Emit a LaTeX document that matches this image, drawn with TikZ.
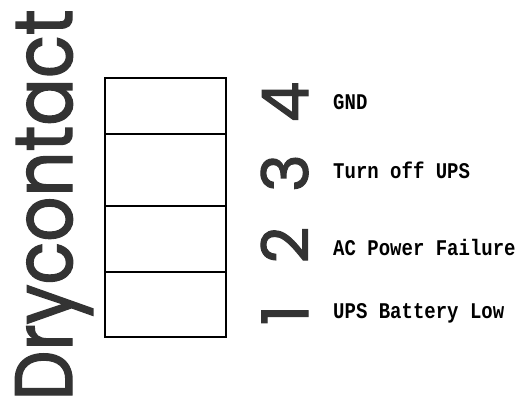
\documentclass[tikz,border=0pt]{standalone}
\usepackage{fontspec}
\setmainfont{Liberation Mono}
\newfontfamily\drysans[FakeBold=1.8]{Poppins}
\usetikzlibrary{positioning}

\newcommand{\tallsig}[1]{\scalebox{1}[1.18]{#1}}

\tikzset{
  cell/.style={draw, line width=1.3pt, minimum width=121pt, inner sep=0pt},
  pinnum/.style={rotate=90, anchor=base, font=\drysans\fontsize{64}{64}\selectfont, text=black!80, inner sep=0pt},
  pinlabel/.style={anchor=west, font=\bfseries\fontsize{19}{19}\selectfont, inner sep=0pt}
}

\begin{document}
\begin{tikzpicture}[x=1pt, y=1pt]
\useasboundingbox (0,0) rectangle (518,409);

% Title
\node[rotate=90, anchor=base, font=\drysans\fontsize{72}{72}\selectfont, text=black!80, inner sep=0pt] (title) at (72,204) {\scalebox{0.98}[1.13]{Drycontact}};

% Contact block
\node[cell, minimum height=56pt] (cell4) at (165.5,303) {};
\node[cell, minimum height=72pt] (cell3) at (165.5,239) {};
\node[cell, minimum height=66pt] (cell2) at (165.5,170) {};
\node[cell, minimum height=65pt] (cell1) at (165.5,104.5) {};

% Pin numbers
\node[pinnum] (num4) at (308,307) {4};
\node[pinnum] (num3) at (308,236) {3};
\node[pinnum] (num2) at (308,164) {2};
\node[pinnum] (num1) at (308,94) {1};

% Signals
\node[pinlabel] (lab4) at (333,307) {\tallsig{GND}};
\node[pinlabel] (lab3) at (333,239) {\tallsig{Turn off UPS}};
\node[pinlabel] (lab2) at (333,162) {\tallsig{AC Power Failure}};
\node[pinlabel] (lab1) at (333,96) {\tallsig{UPS Battery Low}};
\end{tikzpicture}
\end{document}
